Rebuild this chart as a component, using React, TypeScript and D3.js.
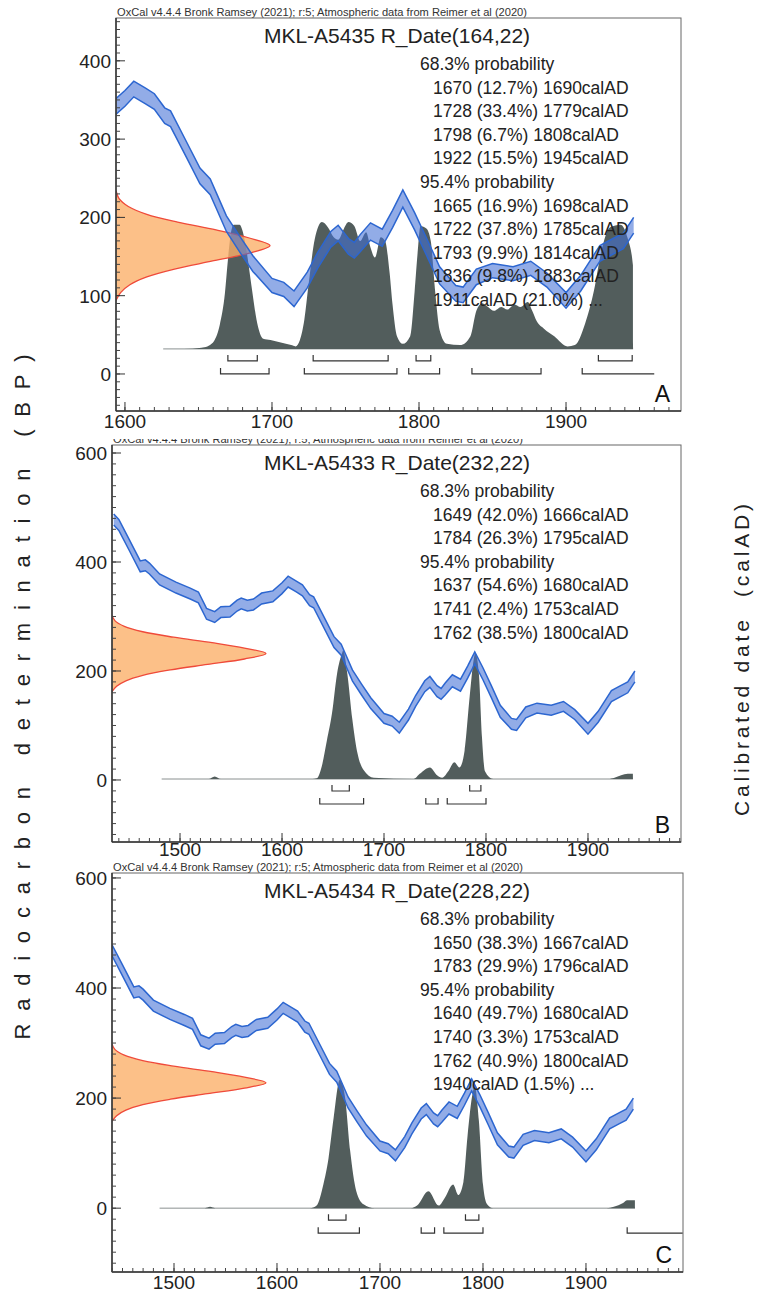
import React from "react";
import * as d3 from "d3";

const FONT = "'Liberation Sans', Arial, Helvetica, sans-serif";

const header =
  "OxCal v4.4.4 Bronk Ramsey (2021); r:5; Atmospheric data from Reimer et al (2020)";

// IntCal20 curve (cal AD, BP, 1 sigma)
const curveYears = [
  1435, 1440, 1450, 1461, 1466, 1470, 1480, 1496, 1510, 1518, 1526, 1534, 1540,
  1549, 1556, 1560, 1566, 1572, 1580, 1591, 1600, 1606, 1614, 1620, 1627, 1631,
  1642, 1651, 1658, 1662, 1669, 1678, 1687, 1700, 1708, 1715, 1724, 1731, 1740,
  1745, 1752, 1756, 1760, 1767, 1775, 1782, 1789, 1797, 1805, 1814, 1825, 1830,
  1839, 1850, 1864, 1876, 1887, 1900, 1910, 1923, 1932, 1939, 1946,
];
const curveBP = [
  478, 468, 432, 392, 394, 388, 368, 353, 342, 335, 305, 299, 308, 309, 320, 324,
  320, 322, 333, 337, 352, 364, 355, 348, 330, 326, 286, 253, 239, 222, 192, 166,
  141, 113, 108, 96, 120, 145, 172, 180, 163, 158, 167, 182, 174, 198, 224, 195,
  163, 126, 103, 101, 124, 132, 128, 135, 120, 94, 116, 154, 163, 170, 190,
];
const curveErr = [
  10, 10, 10, 10, 10, 10, 10, 10, 10, 10, 10, 10, 10, 10, 10, 10, 10, 10, 10, 10,
  10, 10, 10, 10, 10, 10, 10, 10, 10, 10, 10, 10, 10, 9, 9, 10, 10, 10, 10, 10,
  10, 10, 11, 11, 11, 11, 11, 11, 11, 11, 10, 10, 10, 9, 9, 9, 9, 10, 10, 10, 10,
  10, 10,
];

// R_Date shape: relative width at offsets (BP) from the measured age
const rOffsets = [-70, -60, -50, -40, -30, -20, -10, 0, 10, 20, 30, 40, 50, 60, 70];
const rDensity = [0, 0.03, 0.09, 0.2, 0.38, 0.62, 0.86, 1, 0.86, 0.65, 0.4, 0.2, 0.08, 0.02, 0];

// panel A: MKL-A5435
const titleA = "MKL-A5435 R_Date(164,22)";
const linesA = [
  "68.3% probability",
  "1670 (12.7%) 1690calAD",
  "1728 (33.4%) 1779calAD",
  "1798 (6.7%) 1808calAD",
  "1922 (15.5%) 1945calAD",
  "95.4% probability",
  "1665 (16.9%) 1698calAD",
  "1722 (37.8%) 1785calAD",
  "1793 (9.9%) 1814calAD",
  "1836 (9.8%) 1883calAD",
  "1911calAD (21.0%) ...",
];
const distYearsA = [
  1626, 1640, 1652, 1656, 1661, 1664.5, 1668, 1670, 1672, 1674, 1678, 1680, 1683,
  1686, 1690, 1694, 1699, 1706, 1713, 1716, 1719, 1722, 1725, 1729, 1734, 1738,
  1742, 1745, 1749, 1752, 1756, 1760, 1764, 1767, 1770, 1774, 1777, 1780, 1782,
  1785, 1789, 1794, 1797, 1799, 1801, 1805, 1808, 1811, 1814, 1819, 1828, 1835,
  1839, 1843, 1847, 1851, 1856, 1860, 1865, 1869, 1874, 1877, 1880, 1885, 1892,
  1901, 1906, 1913, 1919, 1924, 1930, 1937, 1942, 1945.5, 1945.6,
];
const distProbA = [
  0, 0, 0.01, 0.02, 0.07, 0.19, 0.44, 0.7, 0.91, 0.98, 0.98, 0.93, 0.75, 0.5,
  0.2, 0.08, 0.07, 0.05, 0.03, 0.02, 0.07, 0.23, 0.52, 0.86, 1.0, 0.96, 0.88,
  0.86, 0.95, 1.0, 0.97, 0.85, 0.92, 0.8, 0.72, 0.88, 0.85, 0.6, 0.35, 0.1, 0.04,
  0.1, 0.45, 0.75, 0.97, 0.95, 0.85, 0.45, 0.15, 0.04, 0.03, 0.1, 0.3, 0.36,
  0.33, 0.3, 0.33, 0.31, 0.35, 0.33, 0.37, 0.3, 0.22, 0.16, 0.1, 0.02, 0.03, 0.2,
  0.46, 0.77, 0.96, 0.98, 0.87, 0.66, 0,
];
const range68A = [[1670, 1690], [1728, 1779], [1798, 1808], [1922, 1945]];
const range95A = [[1665, 1698], [1722, 1785], [1793, 1814], [1836, 1883], [1911, 1960]];
const open95A = [false, false, false, false, true];

// panel B: MKL-A5433
const titleB = "MKL-A5433 R_Date(232,22)";
const linesB = [
  "68.3% probability",
  "1649 (42.0%) 1666calAD",
  "1784 (26.3%) 1795calAD",
  "95.4% probability",
  "1637 (54.6%) 1680calAD",
  "1741 (2.4%) 1753calAD",
  "1762 (38.5%) 1800calAD",
];
const distYearsB = [
  1482, 1528, 1534, 1540, 1630, 1634, 1639, 1644, 1649, 1654, 1659, 1660, 1664,
  1669, 1674, 1680, 1690, 1729, 1735, 1745, 1752, 1757, 1763, 1769, 1774, 1779,
  1784, 1788, 1789.5, 1793, 1796, 1799, 1807, 1920, 1926, 1939, 1944, 1944.1,
];
const distProbB = [
  0, 0, 0.02, 0, 0, 0.005, 0.1, 0.3, 0.51, 0.82, 0.98, 1.0, 0.82, 0.46, 0.2,
  0.07, 0.01, 0, 0.04, 0.09, 0.03, 0.01, 0.06, 0.13, 0.09, 0.22, 0.64, 0.93,
  0.98, 0.82, 0.33, 0.06, 0, 0, 0.01, 0.04, 0.04, 0,
];
const range68B = [[1649, 1666], [1784, 1795]];
const range95B = [[1637, 1680], [1741, 1753], [1762, 1800]];
const open95B = [false, false, false];

// panel C: MKL-A5434
const titleC = "MKL-A5434 R_Date(228,22)";
const linesC = [
  "68.3% probability",
  "1650 (38.3%) 1667calAD",
  "1783 (29.9%) 1796calAD",
  "95.4% probability",
  "1640 (49.7%) 1680calAD",
  "1740 (3.3%) 1753calAD",
  "1762 (40.9%) 1800calAD",
  "1940calAD (1.5%) ...",
];
const distYearsC = [
  1486, 1530, 1535, 1540, 1632, 1638.5, 1645, 1650, 1655, 1661, 1666, 1671, 1677,
  1684, 1695, 1730, 1736, 1747, 1757, 1763, 1771, 1776, 1781, 1785, 1790, 1792,
  1796, 1800, 1804, 1810, 1920, 1927, 1936, 1940, 1947.5, 1947.6,
];
const distProbC = [
  0, 0, 0.01, 0, 0, 0.02, 0.18, 0.38, 0.69, 0.98, 0.85, 0.44, 0.13, 0.03, 0, 0,
  0.02, 0.13, 0.02, 0.08, 0.18, 0.1, 0.2, 0.55, 0.88, 0.93, 0.67, 0.18, 0.03, 0,
  0, 0.01, 0.04, 0.06, 0.06, 0,
];
const range68C = [[1650, 1667], [1783, 1796]];
const range95C = [[1640, 1680], [1740, 1753], [1762, 1800], [1940, 1994]];
const open95C = [false, false, false, true];

const panels = [
  {
    id: "A", left: 116, top: 18, right: 681, bottom: 411,
    xDomain: [1593.9, 1978.2], yDomain: [-47.3, 454.7], yStep: 100, yMinor: 10,
    mean: 164, title: titleA, lines: linesA, years: distYearsA, prob: distProbA,
    distBase: 32, distPeak: 194, r68: range68A, r95: range95A, open95: open95A,
    headerClip: null, labelDy: 17,
  },
  {
    id: "B", left: 112, top: 445, right: 681, bottom: 842,
    xDomain: [1433.3, 1991.2], yDomain: [-113.8, 614.7], yStep: 200, yMinor: 20,
    mean: 232, title: titleB, lines: linesB, years: distYearsB, prob: distProbB,
    distBase: 1.8, distPeak: 238, r68: range68B, r95: range95B, open95: open95B,
    headerClip: 439, labelDy: 14,
  },
  {
    id: "C", left: 112, top: 873, right: 683, bottom: 1272,
    xDomain: [1439.8, 1994.2], yDomain: [-116, 609], yStep: 200, yMinor: 20,
    mean: 228, title: titleC, lines: linesC, years: distYearsC, prob: distProbC,
    distBase: 0, distPeak: 238, r68: range68C, r95: range95C, open95: open95C,
    headerClip: null, labelDy: 17,
  },
];

const CalPanel = ({ p }: { p: any }) => {
  const x = d3.scaleLinear().domain(p.xDomain).range([p.left, p.right]);
  const y = d3.scaleLinear().domain(p.yDomain).range([p.bottom, p.top]);
  const dy = d3.scaleLinear().domain([0, 1]).range([y(p.distBase), y(p.distPeak)]);
  const rw = d3.scaleLinear().domain([0, 1]).range([p.left, p.left + 154]);
  const clipId = "clip" + p.id;

  // calibration curve band
  const curve = curveYears.map((yr, i) => ({ yr, bp: curveBP[i], e: curveErr[i] }));
  const band = d3.area<any>().x((d) => x(d.yr)).y0((d) => y(d.bp - d.e)).y1((d) => y(d.bp + d.e));
  const upper = d3.line<any>().x((d) => x(d.yr)).y((d) => y(d.bp + d.e));
  const lower = d3.line<any>().x((d) => x(d.yr)).y((d) => y(d.bp - d.e));

  // R_Date on the y axis
  const rd = rOffsets.map((o, i) => ({ bp: p.mean + o, v: rDensity[i] }));
  const rArea = d3.area<any>().y((d) => y(d.bp)).x0(p.left).x1((d) => rw(d.v)).curve(d3.curveCatmullRom.alpha(0.5));
  const rLine = d3.line<any>().y((d) => y(d.bp)).x((d) => rw(d.v)).curve(d3.curveCatmullRom.alpha(0.5));

  // calibrated distribution
  const dist = p.years.map((yr: number, i: number) => ({ yr, v: p.prob[i] }));
  const distArea = d3.area<any>().x((d) => x(d.yr)).y0(dy(0)).y1((d) => dy(d.v)).curve(d3.curveMonotoneX);

  const base = dy(0);
  const bracket = (r: number[], off: number, open: boolean) =>
    `M${x(r[0])},${base + off - 6}V${base + off}H${x(r[1])}` + (open ? "" : `V${base + off - 6}`);

  const xMajor = d3.range(Math.ceil(p.xDomain[0] / 100) * 100, p.xDomain[1], 100);
  const xMinor = d3.range(Math.ceil(p.xDomain[0] / 10) * 10, p.xDomain[1], 10);
  const yMajor = d3.range(Math.ceil(p.yDomain[0] / p.yStep) * p.yStep, p.yDomain[1], p.yStep);
  const yMinor = d3.range(Math.ceil(p.yDomain[0] / p.yMinor) * p.yMinor, p.yDomain[1], p.yMinor);

  return (
    <g>
      <defs>
        <clipPath id={clipId}>
          <rect x={p.left} y={p.top} width={p.right - p.left} height={p.bottom - p.top} />
        </clipPath>
        {p.headerClip && (
          <clipPath id={clipId + "h"}>
            <rect x={p.left - 5} y={p.headerClip} width={500} height={20} />
          </clipPath>
        )}
      </defs>

      <text
        x={p.left + 1}
        y={p.top - 2.5}
        fontSize={10}
        textLength={410}
        lengthAdjust="spacingAndGlyphs"
        fill="#333"
        clipPath={p.headerClip ? `url(#${clipId}h)` : undefined}
      >
        {header}
      </text>

      <g clipPath={`url(#${clipId})`}>
        <line
          x1={x(p.years[0])}
          x2={x(p.years[p.years.length - 1])}
          y1={base}
          y2={base}
          stroke="#8a9090"
          strokeWidth={1}
        />
        <path d={distArea(dist) || ""} fill="#525d5c" />
        <path d={rArea(rd) || ""} fill="#fbb06a" fillOpacity={0.8} />
        <path d={rLine(rd) || ""} fill="none" stroke="#ef4a3a" strokeWidth={1.3} />
        <path d={band(curve) || ""} fill="#4470d6" fillOpacity={0.58} />
        <path d={upper(curve) || ""} fill="none" stroke="#2c66d0" strokeWidth={1.5} />
        <path d={lower(curve) || ""} fill="none" stroke="#2c66d0" strokeWidth={1.5} />
      </g>

      {p.r68.map((r: number[], i: number) => (
        <path key={"a" + i} d={bracket(r, 12, false)} fill="none" stroke="#333" strokeWidth={1.2} />
      ))}
      {p.r95.map((r: number[], i: number) => (
        <path key={"b" + i} d={bracket(r, 25, p.open95[i])} fill="none" stroke="#333" strokeWidth={1.2} />
      ))}

      {/* frame */}
      <rect x={p.left} y={p.top} width={p.right - p.left} height={p.bottom - p.top} fill="none" stroke="#666" strokeWidth={1} />
      <line x1={p.left} x2={p.left} y1={p.top} y2={p.bottom} stroke="#333" strokeWidth={1.5} />
      <line x1={p.left} x2={p.right} y1={p.bottom} y2={p.bottom} stroke="#333" strokeWidth={1.5} />

      {xMinor.map((t: number) => (
        <line key={"xm" + t} x1={x(t)} x2={x(t)} y1={p.bottom} y2={p.bottom - 4} stroke="#444" />
      ))}
      {xMajor.map((t: number) => (
        <g key={"xM" + t}>
          <line x1={x(t)} x2={x(t)} y1={p.bottom} y2={p.bottom - 9} stroke="#333" />
          <text x={x(t)} y={p.bottom + p.labelDy} fontSize={19} textAnchor="middle" fill="#222">
            {t}
          </text>
        </g>
      ))}
      {yMinor.map((t: number) => (
        <line key={"ym" + t} x1={p.left} x2={p.left + 4} y1={y(t)} y2={y(t)} stroke="#444" />
      ))}
      {yMajor.map((t: number) => (
        <g key={"yM" + t}>
          <line x1={p.left} x2={p.left + 9} y1={y(t)} y2={y(t)} stroke="#333" />
          <text x={p.left - 5} y={y(t) + 7} fontSize={19} textAnchor="end" fill="#222">
            {t}
          </text>
        </g>
      ))}

      <text x={397} y={p.top + 25} fontSize={21} textAnchor="middle" fill="#222">
        {p.title}
      </text>
      {p.lines.map((s: string, i: number) => (
        <text
          key={"l" + i}
          x={s.endsWith("probability") ? 420 : 433}
          y={p.top + 52 + i * 23.6}
          fontSize={17.5}
          fill="#222"
        >
          {s}
        </text>
      ))}
      <text x={p.right - 11} y={p.bottom - 9} fontSize={23} textAnchor="end" fill="#111">
        {p.id}
      </text>
    </g>
  );
};

export default function App() {
  return (
    <svg
      width={760}
      height={1293}
      style={{ position: "absolute", left: 0, top: 0, background: "#fff", fontFamily: FONT }}
    >
      <rect width={760} height={1293} fill="#fff" />
      {panels.map((p) => (
        <CalPanel key={p.id} p={p} />
      ))}
      <text
        transform="translate(30,697) rotate(-90)"
        fontSize={22}
        textAnchor="middle"
        textLength={685}
        lengthAdjust="spacing"
        fill="#222"
      >
        Radiocarbon determination (BP)
      </text>
      <text
        transform="translate(749,660) rotate(-90)"
        fontSize={21}
        textAnchor="middle"
        textLength={312}
        lengthAdjust="spacing"
        fill="#222"
        style={{ whiteSpace: "pre" }}
      >
        {"Calibrated date  (calAD)"}
      </text>
    </svg>
  );
}
